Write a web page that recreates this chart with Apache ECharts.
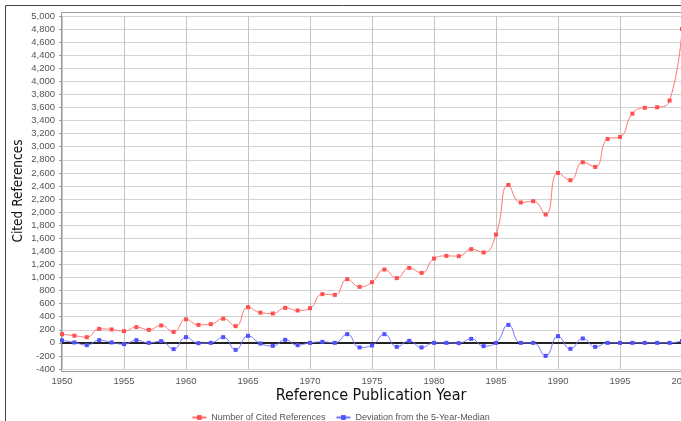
<!DOCTYPE html>
<html>
<head>
<meta charset="utf-8">
<script src="https://cdn.jsdelivr.net/npm/echarts@6/dist/echarts.min.js"></script>
<style>html,body{margin:0;padding:0;background:#fff;}#c{width:681px;height:421px;}</style>
</head>
<body>
<div id="c"></div>
<script>
var years = [];
for (var y = 1950; y <= 2000; y++) years.push(y);
var citedReferences = [133,110,87,214,205,179,240,199,266,168,
  360,275,286,370,255,546,462,449,535,495,
  530,745,734,974,857,928,1122,990,1147,1070,
  1290,1330,1326,1433,1382,1657,2416,2147,2167,1963,
  2600,2488,2763,2691,3119,3150,3507,3596,3604,3706,
  4800];
var deviation = [37,6,-35,41,6,-20,41,0,26,-96,
  87,-5,0,87,-107,107,-10,-46,46,-35,
  0,15,0,133,-70,-40,133,-61,31,-70,
  0,0,-5,61,-50,0,275,0,0,-199,
  102,-92,67,-61,0,0,0,0,0,0,
  30];
var seriesNames = ['Number of Cited References', 'Deviation from the 5-Year-Median'];
var xTitle = 'Reference Publication Year';
var yTitle = 'Cited References';

var chart = echarts.init(document.getElementById('c'));
var FONT = 'Liberation Sans, Arial, sans-serif';
var NARROW = '"Liberation Sans Narrow", "DejaVu Sans Condensed", sans-serif';
chart.setOption({
  animation: false,
  graphic: [
    {type:'rect', shape:{x:5.5,y:5.5,width:700,height:440}, style:{fill:'none',stroke:'#444',lineWidth:1}, z:-1},
    {type:'rect', shape:{x:61.5,y:12.5,width:640,height:359}, style:{fill:'none',stroke:'#999',lineWidth:1}, z:-1},
    {type:'text', x:371, y:396, style:{text:xTitle, fontSize:16, fontFamily:NARROW, fill:'#111', textAlign:'center', textVerticalAlign:'middle'}},
    {type:'text', x:18, y:191, rotation:Math.PI/2, style:{text:yTitle, fontSize:13.5, fontFamily:NARROW, fill:'#111', textAlign:'center', textVerticalAlign:'middle'}}
  ],
  grid: {left:62, top:16, width:620, height:353, containLabel:false, outerBoundsMode:'none'},
  legend: {
    top: 408, left: 'center',
    itemWidth: 14, itemHeight: 6, itemGap: 10,
    textStyle: {fontSize: 9, color: '#555', fontFamily: FONT},
    data: seriesNames
  },
  xAxis: {
    type: 'value', min: 1950, max: 2000, interval: 5,
    axisLine: {show: false}, axisTick: {show: false},
    axisLabel: {fontSize: 9.5, color: '#555', fontFamily: FONT, margin: 7, formatter: function(v){return String(v);}},
    splitLine: {show: true, lineStyle: {color: '#c4c4c4', width: 1}}
  },
  yAxis: {
    type: 'value', min: -400, max: 5000, interval: 200,
    axisLine: {show: false},
    axisTick: {show: true, length: 3, lineStyle: {color: '#999'}},
    axisLabel: {fontSize: 9.5, color: '#555', fontFamily: FONT, margin: 7,
      formatter: function(v){ return v.toLocaleString('en-US'); }},
    splitLine: {show: true, lineStyle: {color: '#d4d4d4', width: 1}}
  },
  series: [
    {
      name: seriesNames[0], type: 'line', smooth: 0.5,
      data: years.map(function(yr, i){ return [yr, citedReferences[i]]; }),
      symbol: 'rect', symbolSize: 4, showSymbol: true,
      lineStyle: {color: '#ff7575', width: 1},
      itemStyle: {color: '#ff5050'},
      z: 3
    },
    {
      name: seriesNames[1], type: 'line', smooth: 0.5,
      data: years.map(function(yr, i){ return [yr, deviation[i]]; }),
      symbol: 'rect', symbolSize: 4, showSymbol: true,
      lineStyle: {color: '#7575ff', width: 1},
      itemStyle: {color: '#5050ff'},
      z: 3,
      markLine: {
        silent: true, symbol: 'none', label: {show: false},
        lineStyle: {color: '#222', width: 2, type: 'solid'},
        data: [{yAxis: 0}], z: 2
      }
    }
  ]
});
</script>
</body>
</html>
